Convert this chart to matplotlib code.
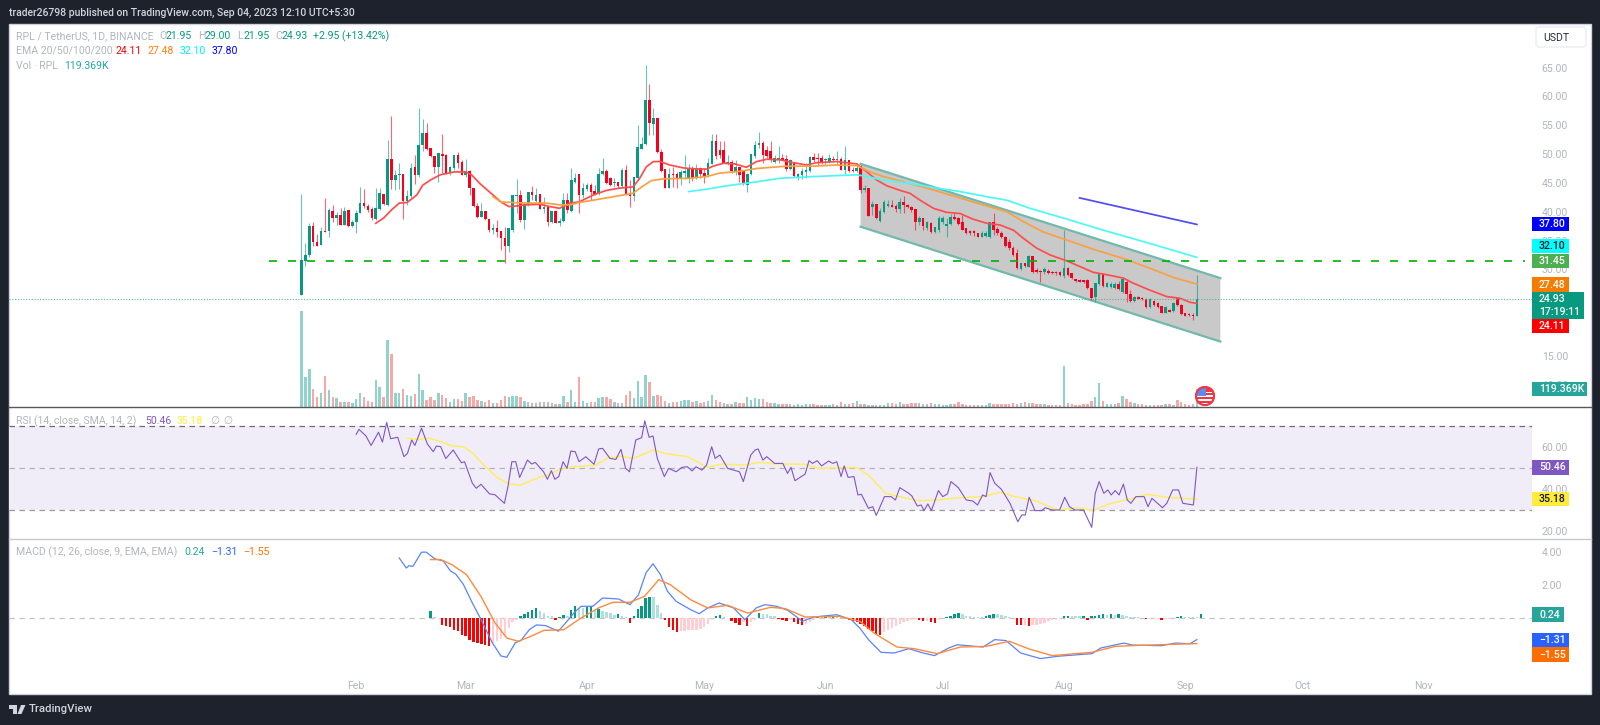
import numpy as np
import matplotlib
matplotlib.use("Agg")
import matplotlib.pyplot as plt
from matplotlib.patches import Rectangle, Circle, Polygon, FancyBboxPatch
from matplotlib.transforms import IdentityTransform

W, H = 1600, 725
DARK = "#1e222d"
GREY = "#b2b5be"
UP = "#089981"
DOWN = "#f7001e"
FS = 7.6
plt.rcParams["font.family"] = ["Roboto", "DejaVu Sans"]

# daily candles, Jan 18 -> Sep 04 2023
open_ = [25.6, 31.5, 32.5, 37.6, 34.8, 34.2, 36.7, 36.6, 40.1, 38.9,
         39.5, 37.7, 40.3, 37.5, 38.3, 39.8, 41.6, 41.0, 40.5, 38.8,
         40.5, 43.1, 41.2, 49.1, 45.5, 46.3, 46.5, 41.9, 42.7, 47.7,
         46.4, 51.6, 53.7, 51.0, 49.7, 47.7, 50.0, 49.8, 46.7, 47.6,
         49.9, 48.7, 46.4, 47.0, 44.2, 41.0, 39.1, 40.1, 38.8, 36.8,
         37.1, 36.6, 35.4, 34.1, 36.8, 42.8, 42.9, 38.6, 41.2, 43.4,
         41.9, 43.0, 40.5, 40.9, 38.3, 40.2, 38.0, 38.4, 42.1, 40.2,
         45.2, 46.5, 42.9, 43.9, 44.6, 43.6, 43.0, 46.6, 47.1, 45.8,
         44.9, 45.2, 44.5, 47.2, 43.2, 42.7, 45.9, 50.8, 51.7, 59.4,
         55.2, 56.3, 50.4, 47.4, 44.2, 46.6, 46.6, 45.9, 46.8, 45.7,
         47.5, 46.0, 47.5, 46.7, 46.4, 48.3, 52.3, 50.7, 50.7, 48.3,
         48.7, 47.0, 47.7, 47.0, 44.7, 46.5, 49.6, 51.5, 52.0, 50.7,
         50.6, 48.7, 49.0, 49.4, 49.2, 47.4, 48.7, 45.9, 46.4, 46.9,
         47.1, 49.5, 49.4, 49.4, 49.0, 48.7, 49.2, 49.0, 49.2, 47.2,
         49.0, 47.2, 47.0, 47.9, 43.8, 44.1, 40.9, 41.3, 38.4, 40.0,
         41.0, 41.2, 41.0, 40.4, 41.7, 41.2, 40.9, 40.4, 38.3, 38.9,
         37.2, 38.1, 36.5, 36.8, 38.3, 37.5, 37.9, 39.1, 38.9, 38.3,
         37.1, 36.6, 36.6, 36.3, 35.7, 35.8, 35.6, 38.3, 37.0, 36.4,
         35.7, 34.8, 33.8, 32.8, 30.0, 31.1, 30.5, 32.3, 29.9, 29.7,
         29.6, 29.8, 29.6, 29.6, 29.6, 28.8, 30.2, 29.3, 28.3, 28.2,
         28.1, 28.2, 26.7, 25.2, 27.5, 29.2, 27.0, 26.9, 26.7, 27.5,
         26.1, 27.9, 25.7, 24.6, 25.2, 25.1, 24.9, 23.5, 24.6, 24.2,
         23.6, 22.5, 22.9, 22.8, 25.0, 23.9, 22.4, 22.3, 22.1, 21.95]
high = [43.0, 34.5, 38.0, 38.2, 36.2, 37.4, 42.3, 40.6, 41.2, 40.0,
        40.6, 40.9, 40.3, 38.6, 40.3, 44.3, 43.9, 41.3, 40.9, 44.1,
        44.2, 43.1, 52.4, 56.6, 47.3, 48.4, 46.5, 43.8, 48.4, 49.8,
        57.9, 56.0, 55.3, 51.0, 49.7, 50.1, 53.5, 50.0, 47.9, 49.8,
        50.4, 49.0, 49.2, 47.2, 44.2, 41.5, 41.5, 40.1, 38.8, 37.9,
        38.5, 36.6, 37.4, 37.2, 42.9, 45.7, 43.7, 41.7, 43.5, 44.5,
        44.1, 43.0, 42.6, 40.9, 40.2, 40.2, 38.9, 43.3, 43.2, 47.6,
        46.8, 46.5, 45.0, 45.0, 44.9, 44.6, 47.5, 49.3, 47.4, 46.1,
        45.8, 45.2, 47.5, 48.1, 45.5, 46.0, 55.0, 53.0, 65.4, 62.1,
        57.9, 56.3, 50.8, 47.4, 47.5, 47.7, 46.9, 47.2, 49.8, 48.3,
        47.9, 48.3, 47.8, 47.5, 49.4, 53.4, 53.5, 52.2, 52.2, 49.8,
        49.0, 49.0, 47.8, 47.0, 46.7, 50.0, 52.2, 53.9, 52.2, 51.4,
        52.2, 49.8, 51.4, 50.0, 49.8, 49.2, 48.7, 46.7, 47.5, 48.4,
        49.6, 50.1, 50.2, 49.8, 49.3, 50.0, 49.6, 50.6, 49.5, 51.4,
        49.0, 47.8, 48.4, 48.1, 44.6, 44.2, 41.9, 41.3, 40.6, 42.1,
        42.1, 42.0, 41.3, 42.4, 42.7, 41.4, 41.0, 40.4, 39.3, 38.9,
        38.4, 38.2, 37.4, 39.3, 39.3, 38.9, 39.6, 39.7, 39.1, 39.4,
        37.1, 36.9, 36.8, 36.4, 36.6, 36.6, 38.3, 39.7, 37.4, 36.6,
        35.8, 35.2, 34.0, 33.5, 31.2, 31.2, 32.5, 32.3, 30.2, 29.9,
        30.4, 30.1, 29.8, 29.8, 29.8, 36.9, 30.5, 29.4, 28.4, 28.3,
        28.2, 28.4, 26.7, 27.7, 29.4, 29.3, 27.9, 27.9, 27.9, 28.0,
        28.5, 28.2, 26.4, 25.4, 25.4, 25.2, 25.0, 25.0, 24.7, 24.3,
        23.7, 23.6, 23.2, 24.4, 25.3, 24.0, 22.5, 22.4, 22.4, 29.0]
low = [25.6, 30.6, 32.2, 34.0, 34.0, 34.2, 36.5, 35.7, 38.2, 37.7,
       37.7, 37.7, 37.3, 37.4, 36.4, 39.7, 40.6, 39.9, 38.5, 38.6,
       40.3, 41.2, 41.0, 44.0, 43.7, 44.0, 38.7, 41.2, 42.3, 44.8,
       46.1, 50.6, 50.7, 49.5, 46.8, 45.2, 46.7, 46.6, 46.4, 47.2,
       47.5, 46.4, 46.1, 42.9, 40.8, 39.0, 39.1, 38.6, 36.5, 36.1,
       35.7, 33.3, 31.1, 33.1, 36.5, 39.7, 38.3, 37.0, 41.0, 42.0,
       41.7, 40.5, 39.8, 37.6, 38.0, 38.1, 37.6, 38.3, 39.8, 40.0,
       45.0, 39.7, 42.4, 43.6, 42.0, 42.9, 42.9, 46.3, 44.8, 44.4,
       44.3, 44.2, 44.3, 42.9, 40.9, 41.9, 45.5, 50.8, 51.6, 53.3,
       53.3, 50.1, 46.9, 44.2, 44.2, 44.3, 44.2, 44.6, 45.6, 44.9,
       45.4, 45.7, 45.9, 45.0, 46.0, 48.3, 49.1, 49.3, 48.4, 48.1,
       46.8, 46.4, 45.2, 44.7, 43.5, 46.4, 49.3, 51.0, 48.4, 49.3,
       48.7, 48.4, 48.5, 48.9, 47.1, 47.2, 46.1, 45.5, 45.6, 45.9,
       46.9, 48.7, 48.1, 48.3, 48.1, 48.4, 48.7, 48.1, 47.2, 46.5,
       46.9, 46.9, 46.9, 43.2, 43.5, 39.3, 39.4, 38.8, 38.3, 39.7,
       40.8, 40.8, 40.0, 39.7, 39.7, 40.6, 40.0, 36.8, 37.7, 36.8,
       36.9, 36.4, 36.4, 36.5, 37.9, 35.6, 37.7, 38.5, 37.7, 36.8,
       36.2, 36.0, 35.8, 35.6, 35.6, 35.6, 35.4, 36.0, 36.0, 35.5,
       33.9, 33.4, 32.4, 30.0, 29.9, 30.4, 30.4, 29.4, 29.4, 27.9,
       29.2, 29.2, 29.2, 29.1, 28.9, 28.5, 28.9, 28.3, 27.9, 27.8,
       27.7, 26.6, 24.7, 24.4, 27.3, 27.0, 26.9, 26.7, 26.6, 26.5,
       25.9, 24.4, 24.4, 24.4, 24.8, 24.7, 23.4, 23.4, 23.7, 23.4,
       22.4, 22.4, 22.6, 22.7, 23.6, 22.1, 21.9, 22.0, 21.2, 21.95]
close = [31.6, 32.5, 37.6, 34.8, 34.1, 36.7, 36.5, 40.3, 38.9, 39.5,
         37.7, 40.1, 37.5, 38.2, 39.8, 41.6, 41.0, 40.3, 38.9, 40.6,
         43.2, 41.3, 49.1, 45.5, 46.4, 46.5, 41.9, 42.8, 47.6, 46.4,
         51.6, 53.7, 50.9, 49.7, 47.7, 50.1, 49.7, 46.7, 47.7, 49.8,
         48.4, 46.4, 47.1, 44.2, 41.0, 39.1, 40.1, 38.7, 36.8, 37.1,
         36.5, 35.4, 34.1, 37.2, 42.9, 42.9, 38.6, 41.3, 43.4, 42.9,
         42.9, 40.5, 40.9, 38.3, 40.2, 38.1, 38.4, 42.1, 40.3, 45.5,
         45.8, 42.9, 44.1, 44.6, 43.5, 43.0, 46.6, 47.1, 44.9, 44.6,
         45.2, 44.5, 47.2, 42.9, 42.7, 46.0, 51.2, 51.7, 59.4, 55.3,
         56.3, 50.4, 47.1, 44.2, 46.6, 46.4, 45.9, 46.9, 47.1, 47.5,
         45.9, 47.5, 46.6, 46.2, 48.4, 52.3, 49.6, 49.9, 48.4, 48.7,
         47.1, 47.7, 46.4, 44.8, 46.5, 50.0, 51.6, 51.9, 49.8, 49.6,
         49.0, 49.4, 49.4, 49.0, 47.4, 49.0, 46.2, 46.5, 47.1, 47.2,
         49.5, 49.0, 49.1, 48.4, 49.2, 49.4, 49.0, 49.2, 47.2, 49.0,
         47.1, 47.0, 47.5, 43.8, 44.2, 39.3, 41.3, 38.9, 40.1, 41.7,
         41.3, 40.9, 40.4, 41.7, 41.2, 40.8, 40.3, 38.3, 38.9, 37.5,
         38.3, 36.5, 37.3, 38.9, 39.0, 37.9, 39.1, 38.7, 37.9, 36.8,
         36.3, 36.3, 36.3, 35.7, 36.3, 36.3, 38.3, 36.8, 36.3, 35.6,
         34.1, 33.7, 32.5, 30.2, 31.1, 30.6, 32.3, 29.6, 29.5, 29.5,
         30.0, 29.3, 29.3, 29.3, 29.0, 30.2, 29.0, 28.5, 28.0, 27.9,
         27.8, 26.7, 25.0, 27.6, 29.2, 27.1, 27.6, 27.5, 27.5, 26.6,
         28.3, 25.7, 24.6, 25.3, 24.9, 24.8, 23.5, 24.8, 23.8, 23.5,
         22.5, 23.5, 22.6, 24.1, 23.8, 22.2, 22.0, 22.1, 21.95, 24.93]

# volume in thousands
volume = [636, 199, 252, 119, 66, 93, 206, 113, 66, 60, 33, 33, 33, 27, 53, 93, 66, 40, 33, 179,
          133, 66, 444, 351, 93, 93, 119, 80, 73, 86, 219, 113, 46, 66, 46, 93, 80, 60, 33, 53,
          53, 40, 93, 66, 73, 46, 40, 33, 46, 27, 27, 46, 73, 66, 73, 73, 66, 40, 33, 27,
          27, 33, 33, 33, 27, 20, 20, 73, 33, 113, 33, 199, 40, 27, 33, 33, 60, 66, 66, 53,
          33, 27, 27, 80, 106, 60, 172, 66, 212, 166, 73, 80, 73, 40, 27, 33, 33, 40, 46, 46,
          33, 40, 27, 33, 40, 80, 46, 33, 27, 20, 20, 33, 27, 27, 66, 46, 60, 53, 53, 33,
          27, 27, 20, 20, 20, 20, 13, 20, 13, 20, 20, 20, 13, 13, 13, 13, 20, 13, 33, 20,
          20, 27, 40, 20, 20, 13, 13, 13, 13, 13, 27, 27, 20, 33, 20, 20, 27, 27, 27, 20,
          20, 27, 20, 20, 13, 13, 20, 20, 33, 20, 13, 13, 13, 13, 13, 13, 27, 20, 20, 20,
          20, 20, 27, 20, 27, 33, 27, 27, 20, 20, 20, 13, 13, 13, 13, 272, 27, 20, 13, 13,
          20, 20, 40, 66, 159, 40, 20, 20, 20, 27, 73, 53, 33, 27, 20, 20, 13, 13, 13, 13,
          13, 20, 20, 13, 46, 33, 20, 13, 20, 119.369]

ema20_days = [19, 21, 23, 25, 27, 29.5, 31, 33, 35.5, 39, 42, 43.5, 45.6, 49, 51, 53, 55, 57.6, 61, 63.5, 66, 68.7, 71,
              74.6, 78, 81.4, 84.8, 86.5, 88.2, 90, 91.7, 94.2, 97.6, 101, 103.6, 105.3, 107.9, 110.8, 113.8, 116.4,
              119, 122.4, 125.8, 129.2, 131.7, 136.8, 142, 144.6, 147.1, 149.7, 153.1, 155.6, 158.2, 161.6, 165, 168.4,
              171.8, 175.3, 178.7, 182.1, 184.6, 188, 191.5, 195.7, 199.1, 202.5, 205.1, 210.2, 212.8, 217, 221.3, 224.7, 227.3, 229]
ema20_vals = [38.0, 38.9, 40.3, 41.5, 41.6, 42.9, 44.6, 45.5, 46.4, 46.9, 46.9, 46.4, 44.9, 42.9, 41.7, 40.9, 41.0, 41.2, 41.3, 40.9, 40.6, 41.5, 41.7,
              42.9, 43.7, 44.1, 44.3, 45.8, 47.8, 48.7, 48.7, 48.1, 47.6, 47.4, 47.4, 47.9, 48.4, 48.3, 47.7, 48.7,
              49.1, 49.0, 48.5, 48.1, 48.5, 48.7, 48.3, 46.9, 45.5, 44.5, 43.7, 43.2, 42.0, 40.6, 39.9, 39.7,
              38.7, 38.0, 37.7, 36.8, 35.4, 33.7, 32.5, 31.5, 30.5, 29.5, 29.2, 28.5, 27.6, 26.4, 25.3, 25.0, 24.3, 24.11]
ema50_days = [49, 51, 54, 57.6, 62.7, 66, 68.7, 71, 74.6, 79.7, 84.8, 87, 89.5, 92.5, 99.3, 103.6, 107, 112, 116.4, 124, 131, 136.8, 142,
              145.4, 148.8, 153.9, 159.9, 165.9, 172.7, 180.4, 184.6, 189.7, 195.7, 202.5, 210.2, 217, 223, 229]
ema50_vals = [42.6, 41.7, 41.6, 41.5, 41.5, 41.2, 41.2, 41.6, 42.0, 42.6, 43.2, 44.3, 45.4, 45.7, 45.8, 46.1, 46.7, 47.0, 47.5, 47.9, 47.9, 48.1, 48.0,
              46.9, 46.1, 45.2, 44.1, 42.9, 41.5, 40.0, 38.3, 36.5, 35.1, 33.5, 31.9, 30.2, 28.6, 27.48]
ema100_days = [99, 103.6, 108.7, 115.5, 122.4, 131, 142, 144.6, 148.8, 154.8, 161.6, 168.4, 176.1, 180.4, 186.3, 194.9, 205.1, 217, 229]
ema100_vals = [43.5, 43.9, 44.5, 45.1, 45.8, 46.1, 46.4, 46.1, 45.5, 45.0, 44.2, 43.5, 42.5, 42.0, 40.6, 38.9, 36.8, 34.5, 32.10]
ema200_days = [199, 229]
ema200_vals = [42.4, 37.80]

# channel drawn by the author
chan_days = [143, 235]
chan_top = [48.3, 28.5]
chan_bot = [37.4, 17.5]
level = 31.45
level_days = [-8.3, 312.9]
last_price = 24.93

rsi_days = [14, 14.7, 16.5, 17.8, 19.7, 20.7, 21.8, 22.8, 24.6, 26.2, 27.1, 28.2, 29, 30.7, 32.2, 33.7, 34.5, 35.6, 36.9, 38.8,
            40.9, 41.7, 43.7, 44.7, 45.9, 48.1, 49.5, 51.9, 52.8, 53.8, 54.8, 55.8, 57.8, 58.9, 59.8, 61.9, 62.9, 63.9, 64.8, 65.8,
            66.9, 67.9, 68.9, 70, 71, 72.7, 74.8, 76, 77, 78.9, 80.4, 81.7, 82.9, 83.9, 85.5, 87, 87.8, 88.9, 89.9, 91,
            92.8, 93.9, 95.8, 97.3, 98.7, 99.9, 100.9, 102.4, 103.6, 104.9, 105.8, 107, 109, 112, 113, 114.9, 116, 116.8, 118, 119,
            121, 123.1, 124.3, 125.2, 126.2, 128.8, 129.8, 130.7, 131.9, 133, 134.8, 135.9, 136.9, 138, 138.8, 139.8, 141.3, 142.3, 143.2, 145,
            146.1, 147, 149.1, 150.8, 151.9, 153, 155.3, 156.1, 157.5, 158.5, 159.2, 160.2, 161.1, 162.9, 164, 165.2, 166.1, 168, 170, 171.7,
            172.9, 174.2, 175.1, 176.1, 177.3, 179, 181.2, 183.2, 184.2, 185.1, 186.1, 187.6, 189.3, 190.2, 192, 193.9, 195.2, 196.4, 197.8, 200,
            201, 202.1, 203, 204, 205.2, 206.2, 207.1, 208.1, 209.1, 210.2, 211.2, 212.1, 213.4, 215.5, 216.5, 217.5, 220.2, 221.3, 222.8, 224.3,
            225.4, 228.1, 229]
rsi_vals = [66.2, 68.6, 65.4, 60.9, 67.2, 62.5, 71.9, 64.1, 64.8, 55.5, 57.1, 63.5, 60.9, 69.1, 61.6, 57.9, 60.6, 60.3, 54.6, 58.7,
            52.6, 53.1, 42.8, 40.4, 42.3, 37.7, 37.3, 33.2, 41.2, 53.1, 53.1, 45.6, 53.9, 52.0, 52.8, 48.3, 44.7, 48.8, 44.7, 46.0,
            53.1, 49.9, 58.2, 57.9, 53.1, 55.5, 51.9, 59.2, 59.5, 54.7, 54.2, 59.0, 49.9, 48.3, 63.5, 64.6, 72.7, 64.8, 65.4, 54.7,
            46.0, 49.9, 48.3, 50.4, 50.7, 48.7, 50.7, 49.1, 51.5, 60.3, 54.7, 56.3, 49.9, 48.3, 43.6, 56.3, 58.7, 59.2, 53.9, 55.5,
            52.3, 52.3, 47.5, 50.4, 44.0, 47.2, 53.6, 52.3, 53.6, 51.1, 53.4, 52.3, 53.1, 46.0, 51.1, 45.6, 46.0, 37.2, 37.5, 30.8,
            31.6, 27.4, 36.4, 36.4, 34.8, 40.7, 38.0, 36.7, 31.9, 32.4, 29.7, 32.9, 29.7, 39.3, 36.4, 37.7, 43.6, 40.7, 34.8, 34.3,
            32.4, 37.2, 36.4, 47.9, 42.8, 39.9, 33.2, 24.4, 27.6, 27.6, 36.1, 29.7, 29.7, 31.1, 30.0, 30.0, 36.1, 31.6, 30.0, 30.0,
            26.0, 21.7, 38.0, 43.6, 38.0, 39.6, 37.2, 39.3, 37.2, 42.4, 34.8, 33.2, 36.4, 36.4, 31.6, 35.6, 31.1, 33.2, 39.6, 39.6,
            33.2, 32.4, 50.46]
rsi_ma_days = [27, 29.7, 32.6, 35.6, 38.5, 41.4, 43.7, 46.6, 50.3, 53.2, 56.1, 59.1, 62.7, 66.4, 70.1, 75.2, 78.2, 81.8, 84.8, 87.7,
               89.9, 93.6, 98.7, 101.7, 103.9, 107.5, 113.4, 117.1, 121.5, 128.8, 132.5, 142, 145, 149.4, 153, 157.5, 162.6, 168.5, 174.3, 178.7,
               182.4, 187.6, 193.4, 198.6, 202.2, 206.6, 212.5, 216.2, 221.3, 229]
rsi_ma_vals = [64.3, 63.8, 64.3, 62.7, 60.6, 60.3, 57.4, 51.5, 45.2, 42.4, 42.0, 44.4, 46.7, 49.5, 50.7, 51.5, 54.7, 55.8, 54.7, 56.8,
               58.7, 56.8, 55.5, 52.6, 50.4, 52.0, 51.5, 52.8, 52.0, 51.9, 49.9, 50.3, 46.7, 38.0, 36.4, 34.5, 34.8, 35.9, 36.4, 38.5,
               36.4, 34.5, 30.0, 31.1, 29.7, 32.9, 35.6, 37.5, 36.1, 35.18]

macd_days = [25, 26.8, 27.5, 28.5, 30.7, 31.9, 34.1, 36.3, 38.1, 39.5, 41.4, 43.7, 45.9, 48.8, 51, 52.5, 54.7, 56.1, 58.3, 60.1,
             62.4, 65.7, 67.9, 69.8, 71.5, 74.5, 77, 81.1, 84, 86.2, 88.1, 89.9, 91.8, 93.6, 95.8, 99.5, 101.7, 103.9, 106.8, 110.5,
             113.4, 116.3, 118.5, 121.5, 124.4, 128.1, 131, 136.9, 140.6, 142.8, 145, 148.2, 151.6, 155.3, 159, 161.9, 165.5, 167.7, 174.3, 177.3,
             180.2, 183.9, 189, 193.4, 202.2, 204.4, 210.3, 212.5, 219.9, 223.5, 227.2, 229]
macd_vals = [3.64, 3.03, 3.17, 3.13, 3.99, 3.99, 3.59, 3.45, 2.85, 2.65, 2.04, 0.91, -0.08, -1.5, -2.3, -2.38, -1.5, -1.37, -0.7, -0.42,
             -0.46, -0.8, -0.2, 0.34, 0.71, 0.71, 1.21, 1.15, 0.81, 1.41, 2.73, 3.29, 2.63, 1.62, 1.01, 0.51, 0.26, 0.61, 0.91, 0.61,
             -0.1, 0.61, 0.81, 0.71, 0.46, -0.2, 0.06, 0.2, -0.1, -0.61, -1.31, -2.08, -2.12, -1.86, -2.12, -2.28, -1.82, -1.62, -1.76, -1.31,
             -1.37, -2.12, -2.46, -2.32, -2.16, -1.82, -1.52, -1.64, -1.68, -1.52, -1.56, -1.31]
signal_days = [33, 35.6, 38.5, 42.2, 45.9, 49.5, 52.5, 55.4, 58.3, 62, 67.1, 71.5, 76, 79.6, 84, 87.7, 91.4, 94.3, 99.5, 103.9,
               109, 114.1, 120, 123.7, 128.8, 137.6, 142.8, 146.4, 152.3, 156.7, 162.6, 168.5, 175.1, 181, 186.1, 192, 202.2, 208.1, 214, 229]
signal_vals = [3.54, 3.54, 3.23, 2.63, 1.31, -0.3, -1.21, -1.41, -1.15, -0.75, -0.71, 0.0, 0.61, 0.95, 0.95, 1.31, 2.32, 2.02, 1.11, 0.61,
               0.77, 0.3, 0.65, 0.57, 0.06, 0.1, -0.2, -0.91, -1.76, -1.86, -2.16, -1.76, -1.72, -1.41, -1.88, -2.28, -2.08, -1.72, -1.66, -1.55]
hist_start = 33
hist_vals = [0.4, 0.05, 0.0, -0.45, -0.5, -0.55, -0.7, -0.8, -1.0, -1.1,
             -1.35, -1.45, -1.5, -1.6, -1.65, -1.7, -1.5, -1.4, -1.25, -1.1,
             -0.6, -0.25, -0.1, 0.1, 0.25, 0.35, 0.5, 0.6, 0.45, 0.3,
             0.15, 0.1, -0.1, 0.05, 0.2, 0.15, 0.5, 0.7, 0.6, 0.6,
             0.65, 0.7, 0.5, 0.55, 0.45, 0.35, 0.3, 0.2, 0.25, 0.1,
             0.05, -0.3, 0.1, 0.55, 0.7, 1.2, 1.25, 1.25, 0.8, 0.3,
             -0.1, -0.55, -0.75, -0.85, -0.8, -0.8, -0.75, -0.75, -0.7, -0.65,
             -0.55, -0.35, -0.15, 0.15, 0.2, 0.05, 0.0, -0.2, -0.3, -0.4,
             -0.25, -0.5, -0.25, -0.1, 0.3, 0.25, 0.25, 0.1, 0.1, -0.05,
             -0.15, -0.2, -0.15, -0.25, -0.35, -0.4, -0.35, -0.25, -0.1, 0.05,
             0.05, 0.1, 0.1, 0.15, 0.1, 0.05, 0.02, -0.1, -0.2, -0.25,
             -0.35, -0.5, -0.65, -0.8, -0.95, -1.0, -0.85, -0.75, -0.6, -0.5,
             -0.35, -0.25, -0.2, -0.1, -0.05, -0.1, -0.2, -0.2, -0.25, -0.3,
             -0.1, 0.02, 0.05, 0.1, 0.25, 0.3, 0.25, 0.1, 0.1, 0.05,
             0.05, 0.05, 0.1, 0.2, 0.25, 0.25, 0.2, 0.15, 0.05, 0.0,
             -0.4, -0.45, -0.45, -0.5, -0.45, -0.4, -0.35, -0.3, -0.2, -0.1,
             -0.1, -0.05, 0.1, 0.15, 0.1, 0.1, 0.1, 0.15, -0.1, 0.1,
             0.15, 0.2, 0.25, 0.2, 0.25, 0.2, 0.25, 0.2, 0.1, 0.05,
             0.05, 0.05, 0.02, -0.05, -0.05, -0.05, -0.05, -0.1, -0.05, -0.05,
             0.02, 0.05, 0.1, 0.05, 0.05, 0.05, 0.05, 0.24]

month_days = [14, 42, 73, 103, 134, 164, 195, 226, 256, 287]
month_labels = ["Feb", "Mar", "Apr", "May", "Jun", "Jul", "Aug", "Sep", "Oct", "Nov"]
price_ticks = [10, 15, 20, 25, 30, 35, 40, 45, 50, 55, 60, 65]
rsi_ticks = [20, 40, 60]
macd_ticks = [2, 4]

XMIN, XMAX = -74.8, 314.7


def pane(top, bottom):
    ax = fig.add_axes([9 / W, 1 - bottom / H, (1532 - 9) / W, (bottom - top) / H])
    ax.set_xlim(XMIN, XMAX)
    ax.patch.set_alpha(0)
    for s in ax.spines.values():
        s.set_visible(False)
    ax.yaxis.tick_right()
    ax.tick_params(axis="y", length=0, pad=7, labelsize=FS, labelcolor=GREY)
    ax.set_xticks([])
    return ax


def label(x, y, s, color=GREY, size=FS, **kw):
    fig.text(x / W, 1 - y / H, s, color=color, fontsize=size, va="center", ha="left", **kw)


def pill(y0, y1, x1, color, lines, tcolor="white"):
    fig.add_artist(Rectangle((1532 / W, 1 - y1 / H), (x1 - 1532) / W, (y1 - y0) / H,
                             transform=fig.transFigure, fc=color, ec="none", zorder=2))
    step = (y1 - y0) / len(lines)
    for i, s in enumerate(lines):
        fig.text(1539 / W, 1 - (y0 + step * (i + 0.5)) / H, s, color=tcolor, fontsize=FS,
                 fontweight="medium", va="center", ha="left", zorder=3)


fig = plt.figure(figsize=(W / 100, H / 100), dpi=100, facecolor=DARK)
fig.add_artist(Rectangle((9 / W, 1 - 694 / H), (1591 - 9) / W, (694 - 24) / H, transform=fig.transFigure,
                         fc="white", ec="#d1d4dc", lw=1, zorder=-1))

# main pane
ax = pane(24, 407)
ax.set_ylim(15 + (356 - 407) / 5.77, 15 + (356 - 24) / 5.77)

days = np.arange(len(close))
o, h, l, c = map(np.array, (open_, high, low, close))
up = c >= o
colors = np.where(up, UP, DOWN)

# volume sits in its own scale at the bottom
vax = ax.twinx()
vax.set_ylim(0, 2539)
vax.set_yticks([])
for s in vax.spines.values():
    s.set_visible(False)
vol_colors = np.where(up, "#92d2cc", "#f7a9a7")
vax.bar(days, volume, width=0.62, color=vol_colors, zorder=1)

# twinx moves the ticks to the left, put them back
ax.yaxis.tick_right()
ax.set_yticks(price_ticks)
ax.set_yticklabels(["%.2f" % t for t in price_ticks])
ax.tick_params(axis="y", length=0, pad=7, labelsize=FS, labelcolor=GREY)

ax.set_zorder(vax.get_zorder() + 1)
ax.fill([chan_days[0], chan_days[1], chan_days[1], chan_days[0]],
        [chan_top[0], chan_top[1], chan_bot[1], chan_bot[0]], color="#c9c9c9", lw=0, zorder=1)
ax.plot(chan_days, chan_top, color="#71b9ac", lw=1.6, zorder=2)
ax.plot(chan_days, chan_bot, color="#71b9ac", lw=1.6, zorder=2)

ax.vlines(days, l, h, colors=colors, lw=0.8, alpha=0.6, zorder=3)
ax.bar(days, c - o, bottom=o, width=0.66, color=colors, zorder=4, lw=0)

ax.plot(ema20_days, ema20_vals, color="#ff4d4d", lw=1.25, zorder=5, solid_joinstyle="round")
ax.plot(ema50_days, ema50_vals, color="#f9a043", lw=1.25, zorder=5, solid_joinstyle="round")
ax.plot(ema100_days, ema100_vals, color="#4df7f7", lw=1.25, zorder=5)
ax.plot(ema200_days, ema200_vals, color="#4d4df0", lw=1.25, zorder=5)

ax.plot(level_days, [level, level], color="#00b300", lw=1.2, dashes=(4.8, 6.6), zorder=6)
ax.axhline(last_price, color="#5fae9f", lw=0.8, ls=(0, (1, 1.5)), zorder=6)

# rsi pane
rax = pane(407, 539)
rax.set_ylim(30 + (510 - 539) / 2.09, 30 + (510 - 407) / 2.09)
rax.set_yticks(rsi_ticks)
rax.set_yticklabels(["%.2f" % t for t in rsi_ticks])
rax.axhspan(30, 70, color="#f0ecf8", lw=0, zorder=0)
rax.axhline(70, color="#6b6e78", lw=0.9, ls=(0, (4.4, 3.6)), zorder=1)
rax.axhline(50, color="#b4b2bc", lw=0.9, ls=(0, (4.4, 3.6)), zorder=1)
rax.axhline(30, color="#9a98a2", lw=0.9, ls=(0, (4.4, 3.6)), zorder=1)
rax.plot(rsi_ma_days, rsi_ma_vals, color="#ffee58", lw=1, zorder=2)
rax.plot(rsi_days, rsi_vals, color="#7e57c2", lw=0.8, zorder=3)

# macd pane
mac = pane(539, 670)
mac.set_ylim((618 - 670) / 16.5, (618 - 539) / 16.5)
mac.set_yticks(macd_ticks)
mac.set_yticklabels(["%.2f" % t for t in macd_ticks])
mac.axhline(0, color="#c4c5ca", lw=0.9, ls=(0, (4.4, 3.6)), zorder=1)

hist = np.array(hist_vals)
hist_days = hist_start + np.arange(len(hist))
prev = np.r_[0, hist[:-1]]
hist_colors = []
for v, p in zip(hist, prev):
    if v >= 0:
        hist_colors.append("#089981" if v > p else "#b2dfdb")
    else:
        hist_colors.append("#ff0000" if v < p else "#ffcdd2")
mac.bar(hist_days, hist, width=0.62, color=hist_colors, zorder=2)
mac.plot(macd_days, macd_vals, color="#5b84f5", lw=0.9, zorder=3)
mac.plot(signal_days, signal_vals, color="#ff8a3d", lw=1, zorder=4)

mac.set_xticks(month_days)
mac.set_xticklabels(month_labels)
mac.tick_params(axis="x", length=0, pad=8, labelsize=FS, labelcolor=GREY)

# pane separators
fig.add_artist(plt.Line2D([9 / W, 1591 / W], [1 - 407 / H] * 2, color="#55585f", lw=1, zorder=1))
fig.add_artist(plt.Line2D([9 / W, 1591 / W], [1 - 539 / H] * 2, color="#c8c8c8", lw=1, zorder=1))

# header, footer
label(9, 13, "trader26798 published on TradingView.com, Sep 04, 2023 12:10 UTC+5:30", color="#d1d4dc", size=7.5, fontweight="medium")
label(29, 709, "TradingView", color="#d1d4dc", size=8.2, fontweight="medium")
for pts in ([(9, 705), (17, 705), (17, 714), (13, 714), (13, 708.5), (9, 708.5)],
            [(21, 705), (25.5, 705), (21.5, 714), (17.5, 714)]):
    fig.add_artist(Polygon([(x / W, 1 - y / H) for x, y in pts], closed=True, transform=fig.transFigure,
                           fc="#d1d4dc", ec="none"))

# legends
label(16, 36, "RPL / TetherUS, 1D, BINANCE")
for x, s, col in [(159, "O", GREY), (166, "21.95", UP), (198, "H", GREY), (205, "29.00", UP),
                  (237, "L", GREY), (243, "21.95", UP), (275, "C", GREY), (281, "24.93", UP),
                  (313, "+2.95 (+13.42%)", UP)]:
    label(x, 36, s, color=col)
label(16, 51, "EMA 20/50/100/200")
for x, s, col in [(116, "24.11", "#ff0000"), (148, "27.48", "#ff7f0e"), (180, "32.10", "#00f0ff"), (212, "37.80", "#0000ff")]:
    label(x, 51, s, color=col)
label(16, 66, "Vol · RPL")
label(64, 66, "119.369K", color="#26a69a")
label(16, 421, "RSI (14, close, SMA, 14, 2)")
for x, s, col in [(145, "50.46", "#7e57c2"), (177, "35.18", "#ffeb3b"), (210, "∅", GREY), (223, "∅", GREY)]:
    label(x, 421, s, color=col)
label(16, 552, "MACD (12, 26, close, 9, EMA, EMA)")
for x, s, col in [(184, "0.24", "#26a69a"), (211, "−1.31", "#2962ff"), (243, "−1.55", "#ff6d00")]:
    label(x, 552, s, color=col)

# currency button
fig.add_artist(FancyBboxPatch((1536, H - 47), 50, 20, boxstyle="round,pad=0,rounding_size=3", transform=IdentityTransform(),
                              fc="white", ec="#eef0f5", lw=1.2, zorder=2))
label(1543, 38, "USDT", color="#2a2e39", zorder=3)

# value pills
pill(217, 231, 1569, "#0000ff", ["37.80"])
pill(239, 253, 1569, "#00ffff", ["32.10"], "#131722")
pill(254, 268, 1569, "#4caf50", ["31.45"])
pill(277, 292, 1569, "#f57c00", ["27.48"])
pill(292, 319, 1584, "#089981", ["24.93", "17:19:11"])
pill(319, 333, 1569, "#ff0000", ["24.11"])
pill(382, 396, 1587, "#26a69a", ["119.369K"])
pill(460, 475, 1569, "#7e57c2", ["50.46"])
pill(492, 506, 1569, "#ffeb3b", ["35.18"], "#131722")
pill(607, 622, 1564, "#26a69a", ["0.24"])
pill(633, 647, 1569, "#2962ff", ["−1.31"])
pill(647, 662, 1569, "#ff6d00", ["−1.55"])

# earnings flag icon
cx, cy, rad = 1205, 396, 9
icon = fig.add_axes([(cx - rad - 1) / W, 1 - (cy + rad + 1) / H, (2 * rad + 2) / W, (2 * rad + 2) / H], zorder=6)
icon.set_xlim(-1.1, 1.1)
icon.set_ylim(-1.1, 1.1)
icon.axis("off")
icon.add_patch(Circle((0, 0), 1, fc="white", ec="none"))
clip = Circle((0, 0), 1, transform=icon.transData)
for y0, y1 in [(0.45, 1), (0.1, 0.3), (-0.3, -0.1), (-0.75, -0.5)]:
    r = Rectangle((-1, y0), 2, y1 - y0, fc="#f23645", ec="none")
    icon.add_patch(r)
    r.set_clip_path(clip)
canton = Rectangle((-1, 0), 1.1, 1, fc="#5b8def", ec="none")
icon.add_patch(canton)
canton.set_clip_path(clip)
icon.add_patch(Circle((0, 0), 1, fc="none", ec="#f23645", lw=1.6))

fig.savefig("out.png", dpi=100, facecolor=DARK)
